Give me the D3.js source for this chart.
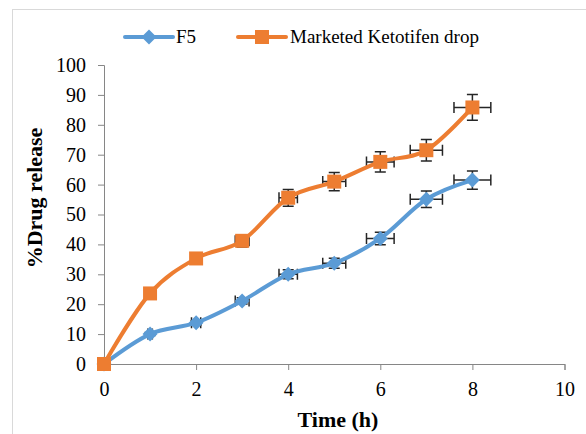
<!DOCTYPE html>
<html>
<head>
<meta charset="utf-8">
<script src="https://cdn.jsdelivr.net/npm/d3@7/dist/d3.min.js"></script>
<style>
  html, body { margin: 0; padding: 0; background: #fff; }
  svg { display: block; }
  text { font-family: "Liberation Serif", "Times New Roman", serif; fill: #000; }
</style>
</head>
<body>
<div id="chart"></div>
<script>
// Release profile: time (h) vs % drug released, with x and y error bars
const times = [0, 1, 2, 3, 4, 5, 6, 7, 8];

const f5Values       = [0, 10.0, 13.8, 21.1, 30.0, 33.7, 42.0, 55.1, 61.5];
const f5XErr         = [0, 0.05, 0.10, 0.15, 0.20, 0.25, 0.30, 0.35, 0.40];
const f5YErr         = [0, 0.50, 0.70, 1.05, 1.50, 1.70, 2.10, 2.75, 3.05];

const marketedValues = [0, 23.6, 35.3, 41.2, 55.6, 61.0, 67.6, 71.5, 85.8];
const marketedXErr   = [0, 0.05, 0.10, 0.15, 0.20, 0.25, 0.30, 0.35, 0.40];
const marketedYErr   = [0, 1.20, 1.75, 2.05, 2.80, 3.05, 3.40, 3.60, 4.30];

const seriesNames  = ["F5", "Marketed Ketotifen drop"];
const seriesColors = ["#5B9BD5", "#ED7D31"];
const xTicks = [0, 2, 4, 6, 8, 10];
const yTicks = [0, 10, 20, 30, 40, 50, 60, 70, 80, 90, 100];

const W = 586, H = 434;
const svg = d3.select("#chart").append("svg").attr("width", W).attr("height", H);

// chart frame
svg.append("rect")
  .attr("x", 12.5).attr("y", 9.5).attr("width", 620).attr("height", 500)
  .attr("fill", "none").attr("stroke", "#d9d9d9").attr("stroke-width", 1);

const x = d3.scaleLinear().domain([0, 10]).range([104, 564.5]);
const y = d3.scaleLinear().domain([0, 100]).range([364, 65]);

// axes
const axisColor = "#868686";
const xAxis = svg.append("g").attr("transform", `translate(0,${y(0)})`)
  .call(d3.axisBottom(x).tickValues(xTicks).tickSize(6).tickPadding(12));
const yAxis = svg.append("g").attr("transform", `translate(${x(0)},0)`)
  .call(d3.axisLeft(y).tickValues(yTicks).tickSize(6).tickPadding(12));
[xAxis, yAxis].forEach(g => {
  g.select(".domain").attr("stroke", axisColor);
  g.selectAll(".tick line").attr("stroke", axisColor);
  g.selectAll(".tick text").attr("font-family", "Liberation Serif")
    .attr("font-size", 20).attr("fill", "#000");
});

// axis titles
svg.append("text").attr("x", 338).attr("y", 427).attr("text-anchor", "middle")
  .attr("font-size", 22).attr("font-weight", "bold").text("Time (h)");
svg.append("text").attr("transform", "translate(42,198) rotate(-90)")
  .attr("text-anchor", "middle").attr("font-size", 22).attr("font-weight", "bold")
  .text("%Drug release");

const series = [
  { name: seriesNames[0], color: seriesColors[0], vals: f5Values, xe: f5XErr, ye: f5YErr, shape: "diamond" },
  { name: seriesNames[1], color: seriesColors[1], vals: marketedValues, xe: marketedXErr, ye: marketedYErr, shape: "square" }
];

function markerPath(shape) {
  if (shape === "square") return "M-7,-7H7V7H-7Z";
  return "M0,-7.5L7.5,0L0,7.5L-7.5,0Z";
}

const line = d3.line().x(d => x(d[0])).y(d => y(d[1])).curve(d3.curveCatmullRom.alpha(0));

// error bars
const errG = svg.append("g").attr("stroke", "#262626").attr("stroke-width", 1.5).attr("fill", "none");
const cap = 5.5;
series.forEach(s => {
  times.forEach((t, i) => {
    const cx = x(t), cy = y(s.vals[i]);
    if (s.ye[i] > 0) {
      const y1 = y(s.vals[i] + s.ye[i]), y2 = y(s.vals[i] - s.ye[i]);
      errG.append("path").attr("d", `M${cx},${y1}V${y2}M${cx - cap},${y1}H${cx + cap}M${cx - cap},${y2}H${cx + cap}`);
    }
    if (s.xe[i] > 0) {
      const x1 = x(t - s.xe[i]), x2 = x(t + s.xe[i]);
      errG.append("path").attr("d", `M${x1},${cy}H${x2}M${x1},${cy - cap}V${cy + cap}M${x2},${cy - cap}V${cy + cap}`);
    }
  });
});

// lines and markers
series.forEach(s => {
  const pts = times.map((t, i) => [t, s.vals[i]]);
  svg.append("path").datum(pts).attr("d", line)
    .attr("fill", "none").attr("stroke", s.color).attr("stroke-width", 4)
    .attr("stroke-linecap", "round");
  svg.append("g").selectAll("path").data(pts).join("path")
    .attr("transform", d => `translate(${x(d[0])},${y(d[1])})`)
    .attr("d", markerPath(s.shape)).attr("fill", s.color);
});

// legend
const legendItems = [
  { s: series[0], x0: 125, x1: 173, tx: 176 },
  { s: series[1], x0: 238, x1: 286, tx: 290 }
];
legendItems.forEach(it => {
  const ly = 37;
  svg.append("line").attr("x1", it.x0).attr("x2", it.x1).attr("y1", ly).attr("y2", ly)
    .attr("stroke", it.s.color).attr("stroke-width", 4).attr("stroke-linecap", "round");
  svg.append("path").attr("transform", `translate(${(it.x0 + it.x1) / 2},${ly})`)
    .attr("d", markerPath(it.s.shape)).attr("fill", it.s.color);
  svg.append("text").attr("x", it.tx).attr("y", 43).attr("font-size", 19).text(it.s.name);
});
</script>
</body>
</html>
